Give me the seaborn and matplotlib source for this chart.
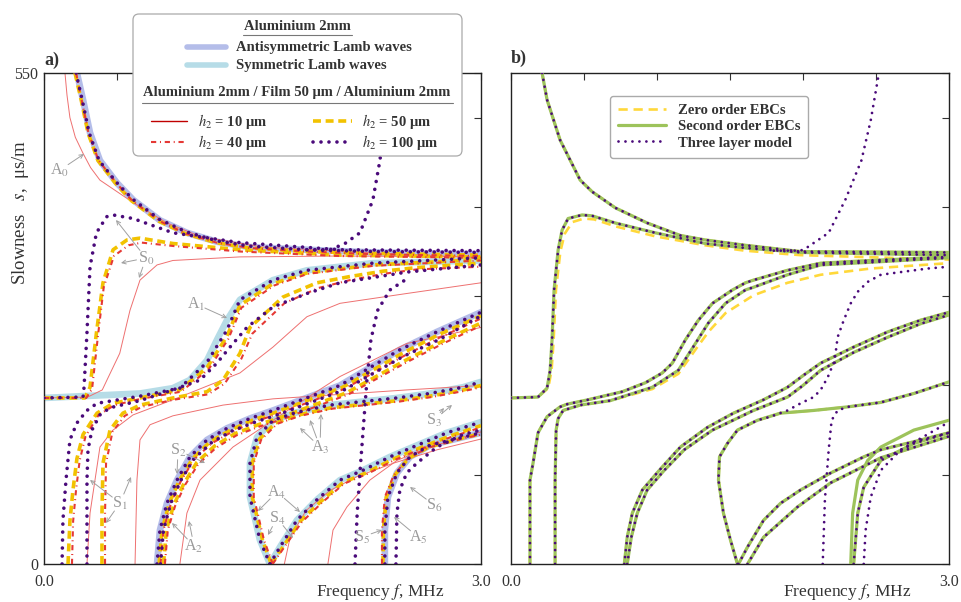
import numpy as np
import pandas as pd
import seaborn as sns
import matplotlib.pyplot as plt
from matplotlib.lines import Line2D
from matplotlib.patches import FancyBboxPatch

sns.set_theme(style="white")
plt.rcParams['font.family'] = ['Liberation Serif', 'DejaVu Serif']
plt.rcParams['mathtext.fontset'] = 'stix'

W, H = 962, 602

# ---- panel a) : Lamb waves of the 2 mm plate (frequency MHz, slowness us/m)
lamb_a0 = [(0.226, 550), (0.268, 520), (0.316, 483), (0.384, 452), (0.50, 427), (0.611, 408), (0.796, 385),
           (0.981, 371), (1.187, 361), (1.414, 355), (1.805, 352), (2.258, 349), (3.0, 347)]
lamb_s0 = [(0, 186), (0.659, 191), (0.885, 197), (1.0, 206), (1.119, 228), (1.187, 251), (1.256, 273),
           (1.345, 296), (1.572, 318), (1.805, 329), (2.258, 337), (3.0, 340)]
lamb_a1 = [(0.776, 0), (0.796, 38), (0.844, 68), (0.913, 94), (1.002, 120), (1.119, 139), (1.256, 152),
           (1.414, 163), (1.572, 172), (2.032, 200), (2.443, 240), (2.697, 260), (3.0, 282)]
lamb_s1 = [(1.551, 0), (1.482, 27), (1.414, 75), (1.414, 113), (1.462, 142), (1.572, 161), (1.736, 170),
           (1.963, 178), (2.19, 182), (2.423, 186), (2.649, 191), (2.876, 198), (3.0, 204)]
lamb_s2 = [(1.551, 0), (1.62, 19), (1.736, 49), (1.874, 72), (2.032, 94), (2.19, 105), (2.375, 120),
           (2.533, 131), (2.766, 147), (3.0, 159)]
lamb_a2 = [(2.34, 0), (2.34, 38), (2.361, 75), (2.423, 102), (2.512, 120), (2.649, 133), (2.876, 142), (3.0, 147)]

# h2 = 100 um
p_a0 = [(0.22, 550), (0.262, 520), (0.31, 483), (0.378, 452), (0.495, 428), (0.606, 409), (0.793, 386),
        (0.978, 372), (1.186, 362), (1.413, 356), (1.805, 352), (2.258, 350), (3.0, 349)]
p_s0 = [(0, 186), (0.268, 187), (0.275, 198), (0.295, 259), (0.316, 333), (0.36, 371), (0.43, 389),
        (0.474, 391), (0.611, 387), (0.885, 371), (1.345, 360), (2.032, 352), (3.0, 351)]
p_top = [(1.805, 352), (1.963, 352), (2.066, 359), (2.169, 371), (2.258, 408), (2.306, 452), (2.34, 497), (2.368, 550)]
p_l1 = [(0.124, 0), (0.13, 49), (0.151, 94), (0.178, 139), (0.226, 158), (0.295, 172), (0.364, 180),
        (0.659, 188), (0.933, 197), (1.119, 226), (1.256, 262), (1.345, 296), (1.572, 318), (1.805, 329),
        (2.258, 337), (3.0, 343)]
p_l2 = [(0.295, 0), (0.295, 94), (0.302, 128), (0.329, 150), (0.384, 167), (0.453, 175), (0.659, 183),
        (0.885, 195), (1.071, 206), (1.187, 225), (1.277, 243), (1.393, 265), (1.572, 288), (1.805, 303),
        (2.032, 315), (2.49, 327), (3.0, 335)]
p_steep = [(2.135, 0), (2.15, 57), (2.17, 105), (2.196, 161), (2.217, 206), (2.244, 251), (2.29, 284),
           (2.375, 307), (2.478, 318)]
p_a1 = [(0.776, 0), (0.796, 38), (0.844, 68), (0.913, 94), (1.002, 120), (1.119, 139), (1.256, 152),
        (1.414, 163), (1.572, 172), (2.032, 200), (2.443, 240), (2.697, 260), (3.0, 282)]
p_a1b = [(0.80, 0), (0.82, 38), (0.87, 68), (0.94, 94), (1.03, 118), (1.15, 136), (1.29, 149), (1.45, 159),
         (1.62, 168), (2.06, 195), (2.46, 232), (2.72, 252), (3.0, 278)]
p_s1 = [(1.551, 0), (1.482, 27), (1.414, 75), (1.414, 113), (1.462, 142), (1.572, 161), (1.736, 170),
        (1.963, 178), (2.19, 182), (2.423, 186), (2.649, 191), (2.876, 198), (3.0, 204)]
p_s2 = [(1.551, 0), (1.62, 19), (1.736, 49), (1.874, 72), (2.032, 94), (2.19, 105), (2.375, 120),
        (2.533, 131), (2.766, 147), (3.0, 159)]
p_a2 = [(2.34, 0), (2.34, 38), (2.361, 75), (2.423, 102), (2.512, 120), (2.649, 133), (2.876, 142), (3.0, 147)]
p_a2b = [(2.416, 0), (2.423, 57), (2.443, 83), (2.49, 102), (2.56, 113), (2.697, 131), (2.876, 145), (3.0, 150)]

# h2 = 50 um
y_a0 = [(0.213, 550), (0.255, 520), (0.302, 483), (0.37, 452), (0.488, 427), (0.6, 407), (0.788, 384),
        (0.972, 370), (1.18, 360), (1.41, 354), (1.805, 350), (2.258, 348), (3.0, 346)]
y_s0 = [(0, 186), (0.28, 186), (0.316, 198), (0.36, 259), (0.405, 315), (0.474, 352), (0.57, 363),
        (0.659, 365), (0.885, 359), (1.345, 352), (2.032, 346), (3.0, 344)]
y_l1 = [(0.165, 0), (0.178, 48), (0.199, 83), (0.226, 118), (0.268, 145), (0.364, 169), (0.474, 180),
        (0.659, 186), (0.933, 195), (1.119, 220), (1.256, 255), (1.345, 290), (1.572, 314), (1.805, 326),
        (2.258, 335), (3.0, 341)]
y_l2 = [(0.398, 0), (0.398, 57), (0.405, 113), (0.453, 150), (0.542, 169), (0.659, 178), (0.885, 186),
        (1.119, 193), (1.229, 206), (1.345, 236), (1.414, 265), (1.64, 299), (1.874, 315), (2.1, 322),
        (2.327, 328), (2.56, 332), (3.0, 337)]
y_a1 = [(0.79, 0), (0.81, 38), (0.86, 68), (0.93, 94), (1.02, 118), (1.14, 137), (1.28, 150), (1.43, 161),
        (1.59, 170), (2.05, 198), (2.46, 236), (2.71, 257), (3.0, 278)]
y_a1b = [(0.82, 0), (0.84, 38), (0.89, 66), (0.96, 90), (1.05, 114), (1.17, 132), (1.31, 146), (1.47, 156),
         (1.64, 165), (2.08, 192), (2.48, 228), (2.73, 249), (3.0, 270)]
y_s1 = [(1.56, 0), (1.50, 27), (1.43, 75), (1.43, 113), (1.48, 140), (1.59, 158), (1.75, 167), (1.97, 175),
        (2.2, 179), (2.43, 183), (2.65, 188), (2.88, 195), (3.0, 200)]
y_s2 = [(1.56, 0), (1.64, 19), (1.76, 48), (1.9, 70), (2.05, 91), (2.21, 102), (2.39, 117), (2.55, 128),
        (2.78, 143), (3.0, 155)]
y_a2 = [(2.327, 0), (2.33, 38), (2.35, 75), (2.41, 100), (2.5, 118), (2.64, 131), (2.87, 141), (3.0, 146)]

# h2 = 40 um
d_a0 = [(0.22, 550), (0.258, 520), (0.305, 483), (0.375, 452), (0.495, 427), (0.605, 407), (0.795, 384),
        (0.975, 370), (1.185, 360), (1.41, 354), (1.81, 350), (2.26, 347), (3.0, 345)]
d_s0 = [(0, 186), (0.29, 186), (0.33, 196), (0.37, 255), (0.41, 310), (0.48, 345), (0.58, 357),
        (0.67, 360), (0.9, 356), (1.35, 350), (2.03, 345), (3.0, 343)]
d_l1 = [(0.192, 0), (0.2, 48), (0.22, 83), (0.245, 116), (0.285, 143), (0.375, 167), (0.485, 178),
        (0.665, 185), (0.94, 193), (1.13, 218), (1.265, 252), (1.355, 287), (1.58, 312), (1.81, 325),
        (2.26, 334), (3.0, 340)]
d_l2 = [(0.419, 0), (0.419, 57), (0.426, 113), (0.47, 148), (0.555, 166), (0.67, 176), (0.89, 184),
        (1.125, 190), (1.24, 202), (1.355, 230), (1.43, 258), (1.65, 292), (1.88, 309), (2.1, 318),
        (2.33, 325), (2.56, 330), (3.0, 333)]
d_a1 = [(0.8, 0), (0.82, 38), (0.87, 67), (0.94, 93), (1.03, 117), (1.15, 135), (1.29, 148), (1.44, 159),
        (1.6, 168), (2.06, 196), (2.47, 233), (2.72, 254), (3.0, 275)]
d_a1b = [(0.83, 0), (0.85, 38), (0.9, 65), (0.97, 89), (1.06, 112), (1.18, 130), (1.32, 144), (1.48, 154),
         (1.65, 163), (2.09, 190), (2.49, 226), (2.74, 247), (3.0, 267)]
d_s1 = [(1.57, 0), (1.51, 27), (1.44, 75), (1.44, 113), (1.49, 139), (1.6, 157), (1.76, 166), (1.98, 174),
        (2.21, 178), (2.44, 182), (2.66, 187), (2.89, 194), (3.0, 198)]
d_s2 = [(1.57, 0), (1.65, 19), (1.77, 47), (1.91, 69), (2.06, 90), (2.22, 101), (2.4, 116), (2.56, 127),
        (2.79, 142), (3.0, 153)]
d_a2 = [(2.32, 0), (2.32, 38), (2.34, 75), (2.40, 99), (2.49, 117), (2.63, 130), (2.86, 140), (3.0, 145)]

# h2 = 10 um
r_a0 = [(0.144, 550), (0.158, 525), (0.178, 500), (0.215, 478), (0.268, 460), (0.32, 444), (0.384, 430),
        (0.611, 405), (0.844, 382), (1.071, 367), (1.5, 355), (2.2, 349), (3.0, 343)]
r_s0 = [(0, 186), (0.30, 187), (0.40, 195), (0.432, 206), (0.52, 236), (0.59, 284), (0.659, 318),
        (0.776, 335), (0.885, 340), (1.345, 344), (2.032, 345), (3.0, 344)]
r_l1 = [(0.295, 0), (0.316, 57), (0.384, 131), (0.474, 150), (0.611, 167), (0.885, 184), (1.345, 214),
        (1.572, 243), (1.805, 277), (2.032, 292), (2.49, 303), (3.0, 315)]
r_l2 = [(0.625, 0), (0.638, 94), (0.659, 139), (0.728, 156), (0.885, 166), (1.229, 178), (1.572, 185),
        (2.032, 190), (2.49, 195), (3.0, 200)]
r_a1 = [(0.933, 0), (0.981, 57), (1.071, 94), (1.297, 131), (1.7, 175), (2.032, 210), (2.49, 247), (3.0, 265)]
r_s2 = [(1.65, 0), (1.69, 30), (1.80, 60), (1.96, 82), (2.15, 98), (2.4, 113), (2.7, 128), (3.0, 140)]
r_s6 = [(1.949, 0), (1.984, 38), (2.08, 64), (2.237, 94), (2.423, 116), (2.649, 131), (3.0, 148)]

# ---- panel b) : EBC models vs three layer model
b_a0 = [(0.213, 550), (0.247, 520), (0.336, 475), (0.474, 430), (0.556, 417), (0.714, 399), (0.933, 382),
        (1.16, 368), (1.331, 363), (1.606, 357), (1.984, 350), (3.0, 349)]
b_s0 = [(0, 186), (0.185, 187), (0.247, 197), (0.268, 217), (0.281, 251), (0.295, 307), (0.323, 352),
        (0.35, 374), (0.391, 387), (0.487, 391), (0.556, 390), (0.714, 382), (0.988, 371), (1.331, 359),
        (1.606, 354), (1.984, 349), (3.0, 346)]
b_s0_zero = [(0, 186), (0.185, 187), (0.255, 197), (0.278, 217), (0.292, 251), (0.308, 307), (0.338, 350),
             (0.368, 370), (0.42, 383), (0.5, 387), (0.57, 386), (0.72, 378), (0.99, 367), (1.33, 357),
             (1.6, 351), (1.98, 346), (3.0, 341)]
b_a1u = [(0.13, 0), (0.13, 94), (0.151, 113), (0.185, 147), (0.247, 165), (0.336, 176), (0.384, 179),
         (0.528, 184), (0.762, 193), (0.92, 203), (1.036, 214), (1.105, 225), (1.194, 251), (1.283, 273),
         (1.38, 292), (1.517, 307), (1.606, 315), (1.661, 318), (1.894, 329), (2.121, 337), (2.464, 340),
         (3.0, 344)]
b_a1l = [(0.302, 0), (0.302, 94), (0.309, 150), (0.323, 163), (0.357, 172), (0.474, 178), (0.68, 183),
         (0.968, 198), (1.146, 217), (1.263, 247), (1.352, 270), (1.469, 292), (1.606, 307), (1.661, 310),
         (1.894, 324), (2.121, 335), (2.464, 338), (3.0, 343)]
b_a1l_zero = [(0.302, 0), (0.302, 94), (0.309, 150), (0.323, 163), (0.357, 172), (0.474, 178), (0.68, 183),
              (0.968, 196), (1.146, 213), (1.263, 240), (1.352, 260), (1.469, 281), (1.661, 301),
              (1.894, 315), (2.121, 324), (2.464, 331), (3.0, 337)]
b_top_tl = [(1.8, 351), (1.984, 351), (2.032, 355), (2.176, 371), (2.29, 408), (2.4, 452), (2.464, 497), (2.52, 550)]
b_a2a = [(0.776, 0), (0.796, 30), (0.831, 57), (0.9, 83), (1.016, 105), (1.16, 131), (1.345, 153),
         (1.524, 169), (1.73, 184), (1.894, 198), (2.0, 211), (2.121, 225), (2.347, 243), (2.58, 260),
         (2.803, 273), (3.0, 282)]
b_a2b = [(0.796, 0), (0.824, 30), (0.865, 57), (0.933, 83), (1.05, 105), (1.187, 128), (1.38, 150),
         (1.572, 165), (1.661, 172), (1.894, 187), (2.0, 200), (2.121, 217), (2.347, 237), (2.58, 254),
         (2.803, 269), (3.0, 279)]
b_s1 = [(1.551, 0), (1.503, 27), (1.455, 57), (1.421, 94), (1.428, 120), (1.482, 135), (1.551, 150),
        (1.688, 161), (1.846, 169), (2.073, 172), (2.306, 176), (2.533, 181), (2.759, 191), (3.0, 204)]
b_s1_tl = [(1.551, 0), (1.503, 27), (1.455, 57), (1.421, 94), (1.428, 120), (1.482, 135), (1.551, 150),
           (1.688, 161), (1.777, 165), (1.894, 172), (1.984, 180), (2.073, 187), (2.121, 195), (2.169, 209),
           (2.217, 228), (2.237, 254), (2.279, 273), (2.327, 292), (2.375, 305), (2.443, 316), (2.533, 324),
           (2.67, 327), (2.855, 331), (3.0, 333)]
b_low_tl = [(2.135, 0), (2.15, 72), (2.176, 128), (2.196, 161), (2.237, 172), (2.306, 176), (2.533, 181),
            (2.759, 191), (3.0, 204)]
b_s2a = [(1.558, 0), (1.62, 19), (1.73, 49), (1.846, 68), (1.984, 83), (2.19, 102), (2.416, 120),
         (2.533, 128), (2.759, 137), (3.0, 147)]
b_s2b = [(1.62, 0), (1.73, 30), (1.963, 64), (2.19, 91), (2.533, 119), (3.0, 143)]
b_a5a = [(2.327, 0), (2.34, 57), (2.375, 94), (2.443, 116), (2.533, 131), (2.759, 150), (3.0, 161)]
b_a5b = [(2.347, 0), (2.375, 57), (2.416, 86), (2.533, 116), (2.759, 135), (3.0, 147)]
b_a5_tl = [(2.416, 0), (2.429, 38), (2.464, 75), (2.533, 105), (2.67, 128), (3.0, 159)]

X_TICKS = [0, 0.5, 1.0, 1.5, 2.0, 2.5, 3.0]
X_LABELS = ['0.0', '', '', '', '', '', '3.0']
Y_TICKS = [0, 100, 200, 300, 400, 500, 550]
Y_LABELS = ['0', '', '', '', '', '', '550']

# colours / styles
C_ANTI = '#b4bde9'
C_SYM = '#b6dce7'
C_PURPLE = '#4a0a7a'
C_YELLOW = '#f2c200'
C_RED = '#e53935'
C_GREEN = '#9dc35b'
C_ZERO = '#ffd83a'
GREY = '#333333'

st_band_a = dict(color=C_ANTI, lw=4.8, solid_capstyle='round', zorder=1)
st_band_s = dict(color=C_SYM, lw=4.8, solid_capstyle='round', zorder=1)
st_10 = dict(color='#ee7070', lw=0.7, zorder=2)
st_50 = dict(color=C_YELLOW, lw=2.6, linestyle=(0, (2.2, 1.3)), zorder=3)
st_40 = dict(color=C_RED, lw=1.5, linestyle=(0, (2.5, 1.8, 0.5, 1.8)), zorder=4)
st_100 = dict(color=C_PURPLE, lw=2.6, linestyle=(0, (0.01, 2.2)), dash_capstyle='round', zorder=5)
st_zero = dict(color=C_ZERO, lw=1.9, linestyle=(0, (3.5, 2.2)), zorder=2)
st_second = dict(color=C_GREEN, lw=2.3, zorder=3)
st_three = dict(color=C_PURPLE, lw=2.0, linestyle=(0, (0.01, 2.5)), dash_capstyle='round', zorder=4)


def draw(ax, pts, **kw):
    d = pd.DataFrame(pts, columns=['f', 's'])
    sns.lineplot(data=d, x='f', y='s', sort=False, estimator=None, errorbar=None,
                 legend=False, ax=ax, **kw)


def fp(px, py):
    return px / W, 1 - py / H


def nz(st):
    return {k: v for k, v in st.items() if k != 'zorder'}


fig = plt.figure(figsize=(W / 100, H / 100), dpi=100)
ax_a = fig.add_axes([44 / W, 1 - 564 / H, 437 / W, 491 / H])
ax_b = fig.add_axes([511 / W, 1 - 564 / H, 438 / W, 491 / H])

# panel a
for c in [lamb_a0, lamb_a1, lamb_a2]:
    draw(ax_a, c, **st_band_a)
for c in [lamb_s0, lamb_s1, lamb_s2]:
    draw(ax_a, c, **st_band_s)
for c in [r_a0, r_s0, r_l1, r_l2, r_a1, r_s2, r_s6]:
    draw(ax_a, c, **st_10)
for c in [y_a0, y_s0, y_l1, y_l2, y_a1, y_a1b, y_s1, y_s2, y_a2]:
    draw(ax_a, c, **st_50)
for c in [d_a0, d_s0, d_l1, d_l2, d_a1, d_a1b, d_s1, d_s2, d_a2]:
    draw(ax_a, c, **st_40)
for c in [p_a0, p_s0, p_top, p_l1, p_l2, p_steep, p_a1, p_a1b, p_s1, p_s2, p_a2, p_a2b]:
    draw(ax_a, c, **st_100)

# panel b
for c in [b_a0, b_s0_zero, b_a1u, b_a1l_zero, b_a2a, b_a2b, b_s1, b_s2a, b_s2b, b_a5b]:
    draw(ax_b, c, **st_zero)
for c in [b_a0, b_s0, b_a1u, b_a1l, b_a2a, b_a2b, b_s1, b_s2a, b_s2b, b_a5a, b_a5b]:
    draw(ax_b, c, **st_second)
for c in [b_a0, b_s0, b_a1u, b_a1l, b_top_tl, b_a2a, b_a2b, b_s1_tl, b_low_tl, b_s2a, b_s2b, b_a5b, b_a5_tl]:
    draw(ax_b, c, **st_three)

for ax in (ax_a, ax_b):
    ax.set_xlim(0, 3.0)
    ax.set_ylim(0, 550)
    ax.set_xlabel('')
    ax.set_ylabel('')
    ax.set_xticks(X_TICKS)
    ax.set_xticklabels(X_LABELS)
    ax.set_yticks(Y_TICKS)
    ax.tick_params(direction='in', top=True, right=True, length=5, width=0.8,
                   color='#333333', labelsize=11.5, labelcolor=GREY, pad=4)
    ax.tick_params(axis='x', pad=7)
    for sp in ax.spines.values():
        sp.set_color('#222222')
        sp.set_linewidth(1.0)
ax_a.set_yticklabels(Y_LABELS)
ax_b.set_yticklabels([''] * len(Y_TICKS))

fig.text(*fp(44, 60), 'a)', fontsize=13, fontweight='bold', color=GREY, va='center', ha='left')
fig.text(*fp(511, 58), 'b)', fontsize=13, fontweight='bold', color=GREY, va='center', ha='left')
fig.text(*fp(21, 212), 'Slowness   $s$,  μs/m', rotation=90, fontsize=13.5, color=GREY,
         va='center', ha='center')
fig.text(*fp(380, 592), 'Frequency $f$, MHz', fontsize=12.5, color=GREY, va='center', ha='center')
fig.text(*fp(847, 592), 'Frequency $f$, MHz', fontsize=12.5, color=GREY, va='center', ha='center')

# mode labels in panel a (text position, arrow tips) in pixel coordinates
MODE_LABELS = [
    ('A$_0$', (60, 170), [(84, 154)]),
    ('S$_0$', (146, 258), [(116, 220), (121, 263), (139, 278)]),
    ('A$_1$', (196, 304), [(227, 318)]),
    ('S$_1$', (120, 503), [(90, 480), (106, 523), (131, 477)]),
    ('S$_2$', (178, 450), [(205, 463), (177, 474)]),
    ('A$_2$', (194, 546), [(172, 523), (189, 521)]),
    ('A$_3$', (320, 447), [(300, 428), (310, 420), (321, 414)]),
    ('S$_3$', (434, 420), [(444, 408), (452, 405)]),
    ('A$_4$', (277, 492), [(300, 512), (258, 511)]),
    ('S$_4$', (277, 518), [(268, 535), (293, 538)]),
    ('S$_5$', (362, 537), [(382, 530)]),
    ('A$_5$', (418, 537), [(394, 517)]),
    ('S$_6$', (434, 505), [(410, 487)]),
]
for lab, tpos, tips in MODE_LABELS:
    fig.text(*fp(*tpos), lab, fontsize=11.5, color='#9a9a9a', ha='center', va='center', zorder=10)
    for tip in tips:
        ax_a.annotate('', xy=fp(*tip), xytext=fp(*tpos), xycoords='figure fraction',
                      textcoords='figure fraction', zorder=10,
                      arrowprops=dict(arrowstyle='->', color='#a0a0a0', lw=0.7,
                                      shrinkA=7, shrinkB=0, mutation_scale=7))

# legend of panel a (drawn by hand in pixel space)
lax = fig.add_axes([131 / W, 1 - 158 / H, 333 / W, 146 / H])
lax.set_xlim(131, 464)
lax.set_ylim(158, 12)
lax.axis('off')
lax.add_patch(FancyBboxPatch((133, 14), 329, 142, boxstyle='round,pad=0,rounding_size=6',
                             fc='white', ec='#aaaaaa', lw=0.9))
tk = dict(fontsize=10.5, fontweight='bold', color=GREY, va='center')
lax.text(297, 26, 'Aluminium 2mm', ha='center', **tk)
lax.plot([243, 352], [35, 35], color='#777777', lw=0.8)
lax.plot([187, 226], [47, 47], color=C_ANTI, lw=4, solid_capstyle='round')
lax.text(236, 47, 'Antisymmetric Lamb waves', **tk)
lax.plot([187, 226], [65, 65], color=C_SYM, lw=4, solid_capstyle='round')
lax.text(236, 65, 'Symmetric Lamb waves', **tk)
lax.text(297, 92, 'Aluminium 2mm / Film 50 μm / Aluminium 2mm', ha='center', **tk)
lax.plot([142, 453], [103, 103], color='#777777', lw=0.8)
lax.plot([151, 187], [121, 121], color='#c00000', lw=1.0)
lax.text(198, 121, r'$h_2$ = 10 μm', **tk)
lax.plot([151, 187], [142, 142], **nz(st_40))
lax.text(198, 142, r'$h_2$ = 40 μm', **tk)
lax.plot([313, 352], [121, 121], **nz(st_50))
lax.text(362, 121, r'$h_2$ = 50 μm', **tk)
lax.plot([313, 352], [142, 142], **nz(st_100))
lax.text(362, 142, r'$h_2$ = 100 μm', **tk)

# legend of panel b
handles = [Line2D([], [], **nz(st_zero)), Line2D([], [], **nz(st_second)), Line2D([], [], **nz(st_three))]
leg = ax_b.legend(handles, ['Zero order EBCs', 'Second order EBCs', 'Three layer model'],
                  loc='upper left', bbox_to_anchor=(0.226, 0.953), borderaxespad=0,
                  prop={'size': 10.5, 'weight': 'bold'}, frameon=True, fancybox=True,
                  edgecolor='#aaaaaa', framealpha=1, handlelength=3.3, handletextpad=0.8,
                  borderpad=0.55, labelspacing=0.2)
for t in leg.get_texts():
    t.set_color(GREY)

fig.savefig('out.png', dpi=100)
